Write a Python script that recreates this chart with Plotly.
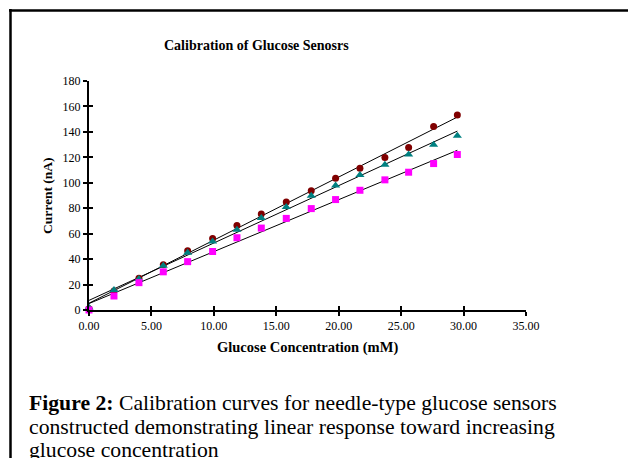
import numpy as np
import plotly.graph_objects as go

glucose_mM = [0.0, 2.0, 4.0, 5.95, 7.9, 9.9, 11.85, 13.8, 15.8, 17.8, 19.75, 21.7, 23.7, 25.6, 27.6, 29.5]
sensor_a = [1.0, 15.0, 25.0, 35.5, 46.5, 56.2, 66.5, 75.5, 84.9, 93.8, 103.6, 111.4, 119.9, 127.8, 144.3, 153.2]
sensor_b = [2.0, 15.8, 24.4, 34.7, 45.0, 53.9, 63.1, 72.3, 81.0, 89.9, 97.8, 106.2, 114.1, 122.2, 129.9, 137.0]
sensor_c = [0.0, 11.0, 21.5, 30.0, 38.0, 46.0, 56.8, 64.4, 72.0, 79.7, 86.8, 94.1, 102.3, 108.3, 115.1, 122.2]

x_ticks = [0, 5, 10, 15, 20, 25, 30, 35]
x_tick_labels = ["0.00", "5.00", "10.00", "15.00", "20.00", "25.00", "30.00", "35.00"]
y_ticks = [0, 20, 40, 60, 80, 100, 120, 140, 160, 180]

series = [
    (sensor_a, "circle", "#800000", 7),
    (sensor_b, "triangle-up", "#008080", 8),
    (sensor_c, "square", "#FF00FF", 7),
]

SERIF = "Liberation Serif, Times New Roman, serif"

fig = go.Figure()
xs = np.array(glucose_mM)
for ys, sym, col, sz in series:
    m, b = np.polyfit(xs, np.array(ys), 1)
    xl = [0.0, glucose_mM[-1]]
    fig.add_trace(go.Scatter(x=xl, y=[b + m * v for v in xl], mode="lines",
                             line=dict(color="black", width=1), showlegend=False,
                             hoverinfo="skip"))
for ys, sym, col, sz in series:
    fig.add_trace(go.Scatter(x=glucose_mM, y=ys, mode="markers",
                             marker=dict(symbol=sym, color=col, size=sz, line=dict(width=0)),
                             showlegend=False, cliponaxis=False))

W, H = 628, 458
L, R, T, B = 89, 102, 81, 148
pw, ph = W - L - R, H - T - B


def px(x):
    return (x - L) / pw


def py(y):
    return (H - B - y) / ph


axis_common = dict(showgrid=False, zeroline=False, showline=True, linecolor="black",
                   linewidth=2, ticks="outside", ticklen=4, tickwidth=1.5, tickcolor="black",
                   tickfont=dict(family=SERIF, size=12, color="black"))
fig.update_layout(
    width=W, height=H,
    margin=dict(l=L, r=R, t=T, b=B),
    paper_bgcolor="white", plot_bgcolor="white",
    showlegend=False,
    xaxis=dict(range=[0, 35], tickvals=x_ticks, ticktext=x_tick_labels, **axis_common),
    yaxis=dict(range=[0, 180], tickvals=y_ticks, **axis_common),
    xaxis2=dict(range=[0, 35], overlaying="x", tickvals=x_ticks, ticks="inside", ticklen=4,
                tickwidth=1.5, tickcolor="black", showticklabels=False, showgrid=False,
                zeroline=False, showline=False, side="bottom", anchor="y"),
    yaxis2=dict(range=[0, 180], overlaying="y", tickvals=y_ticks, ticks="inside", ticklen=4,
                tickwidth=1.5, tickcolor="black", showticklabels=False, showgrid=False,
                zeroline=False, showline=False, side="left", anchor="x"),
)
fig.add_trace(go.Scatter(x=[None], y=[None], xaxis="x2", yaxis="y2", showlegend=False))

fig.add_shape(type="line", xref="paper", yref="paper", x0=px(9), x1=px(640), y0=py(10.5), y1=py(10.5),
              line=dict(color="black", width=2.5))
fig.add_shape(type="line", xref="paper", yref="paper", x0=px(10.5), x1=px(10.5), y0=py(9), y1=py(470),
              line=dict(color="black", width=2.5))

fig.add_annotation(x=px(256), y=py(45), xref="paper", yref="paper", showarrow=False,
                   text="<b>Calibration of Glucose Senosrs</b>",
                   font=dict(family=SERIF, size=14, color="black"), xanchor="center", yanchor="middle")
fig.add_annotation(x=px(47), y=py(196), xref="paper", yref="paper", showarrow=False,
                   text="<b>Current (nA)</b>", textangle=-90,
                   font=dict(family=SERIF, size=13.5, color="black"), xanchor="center", yanchor="middle")
fig.add_annotation(x=px(307), y=py(347), xref="paper", yref="paper", showarrow=False,
                   text="<b>Glucose Concentration (mM)</b>",
                   font=dict(family=SERIF, size=14.5, color="black"), xanchor="center", yanchor="middle")

caption = [
    "<b>Figure 2:</b> Calibration curves for needle-type glucose sensors",
    "constructed demonstrating linear response toward increasing",
    "glucose concentration",
]
for i, line in enumerate(caption):
    fig.add_annotation(x=px(27), y=py(403 + 23.5 * i), xref="paper", yref="paper", showarrow=False,
                       text=line, align="left",
                       font=dict(family=SERIF, size=21.7, color="black"), xanchor="left", yanchor="middle")

fig.write_html("out.html", config={"displayModeBar": False},
               post_script="document.body.style.margin='0px';")
